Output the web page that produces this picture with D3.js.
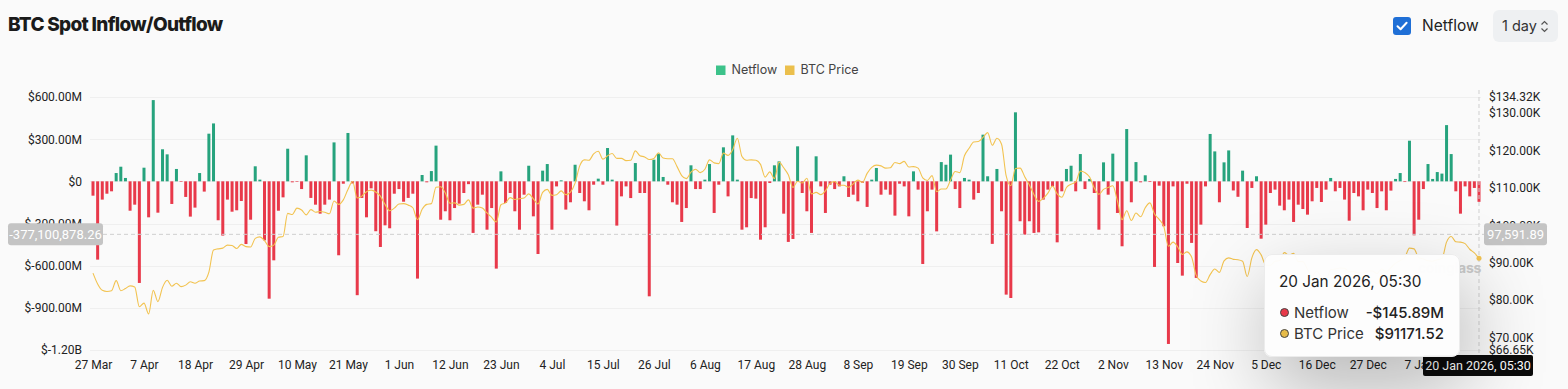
<!DOCTYPE html>
<html>
<head>
<meta charset="utf-8">
<script src="https://cdn.jsdelivr.net/npm/d3@7/dist/d3.min.js"></script>
<style>
  html, body { margin: 0; padding: 0; background: #fafafa; }
  #wrap { position: relative; width: 1568px; height: 389px; overflow: hidden; font-family: Inter, 'Noto Sans', sans-serif; }
  #chart { position: absolute; left: 0; top: 0; }
  .axis text { font-family: Roboto, 'Noto Sans', sans-serif; font-size: 12px; fill: #222; }
  .tooltip {
    position: absolute; left: 1264px; top: 254px; width: 196px; height: 103px;
    box-sizing: border-box; background: rgba(253, 253, 253, 0.97);
    border: 1px solid #ececec; border-radius: 8px;
    box-shadow: 6px 30px 80px rgba(0, 0, 0, 0.28);
    color: #222;
  }
  .tooltip .t-title { position: absolute; left: 14px; top: 17px; font-size: 15.3px; }
  .tooltip .row { position: absolute; left: 14px; right: 15px; font-size: 15px; height: 18px; line-height: 18px; }
  .tooltip .row .dot { position: absolute; left: 1px; top: 4px; width: 9px; height: 9px; border-radius: 50%; border: 1px solid #444; box-sizing: border-box; }
  .tooltip .row .name { position: absolute; left: 15px; color: #333; }
  .tooltip .row .val { position: absolute; right: 0; font-weight: 500; }
  .head-title { position: absolute; left: 8px; top: 13px; font-size: 19px; font-weight: 800; color: #1b1b1b; letter-spacing: -0.7px; }
  .cb { position: absolute; left: 1393px; top: 17px; width: 18px; height: 18px; border-radius: 3px; background: #1f6fd6; }
  .cb-label { position: absolute; left: 1422px; top: 16px; font-size: 15.5px; color: #222; }
  .sel { position: absolute; left: 1493px; top: 10px; width: 65px; height: 32px; border-radius: 6px; background: #eef0f2; box-sizing: border-box; }
  .sel span { position: absolute; left: 9px; top: 7px; font-size: 14.5px; color: #333; }
  .sel svg { position: absolute; left: 47px; top: 10px; }
</style>
</head>
<body>
<div id="wrap">
  <div class="head-title">BTC Spot Inflow/Outflow</div>
  <div class="cb"><svg width="18" height="18"><path d="M4.5 9.2 L7.6 12.2 L13.6 5.8" fill="none" stroke="#fff" stroke-width="2" stroke-linecap="round" stroke-linejoin="round"/></svg></div>
  <div class="cb-label">Netflow</div>
  <div class="sel"><span>1 day</span><svg width="9" height="13"><path d="M1.5 4.5 L4.5 1.5 L7.5 4.5 M1.5 8.5 L4.5 11.5 L7.5 8.5" fill="none" stroke="#555" stroke-width="1.2"/></svg></div>
  <div id="chart"></div>
</div>
<script>
/* Data: one value per day, 27 Mar 2025 .. 20 Jan 2026 */
const startDate = new Date(2025, 2, 27);
const endDate = new Date(2026, 0, 21);

// netflow in $M
const netflow = [
  -102, -557, -130, -88, -71, 59, 104, 24, -209, -166,
  -723, 97, -256, 578, -223, 228, 192, -161, 88, -3,
  -111, -251, -187, 59, -73, 339, 412, -277, -386, -130,
  -216, -206, -140, -446, -273, 107, 12, -420, -835, -562,
  -209, -114, 232, -7, -3, -55, 185, -118, -166, -230,
  -166, -130, 277, -526, -17, 344, -15, -810, -118, -256,
  -50, -355, -467, -313, -334, -88, -55, -145, -118, -88,
  -692, 45, -7, 73, 254, -273, -213, -277, -190, -159,
  -83, -20, -367, -166, -95, -344, -190, -621, 71, -154,
  -83, -213, -344, -95, 111, -249, -517, 76, 123, -344,
  -36, 7, -201, -149, 118, -83, -142, -206, -24, 19,
  -24, 237, 12, -315, -107, -36, -119, 130, -83, -83,
  -818, 154, 197, 31, -24, -149, -166, -289, -190, 114,
  -55, -55, 12, 123, -225, -24, 242, -107, 327, 12,
  -344, -327, -119, -123, -415, -327, -12, 114, 142, -230,
  -431, -410, 249, -83, -213, -367, 178, -36, -225, -24,
  -55, -36, 36, -111, -95, -142, -10, -182, 12, 95,
  -95, -59, -95, -244, -17, -36, -249, 71, -59, -588,
  -213, -59, -356, 137, 118, 190, -55, -190, 24, 12,
  -130, -83, 332, 36, -445, 88, -213, -806, -830, 491,
  -284, -379, -284, -367, -363, -130, -59, -36, -434, -71,
  88, 111, -71, 194, -55, 17, -83, -344, 135, -95,
  197, -225, -462, 372, -149, 137, -7, 43, -5, -609,
  -31, -320, -1157, -36, -581, -671, -17, -438, -687, -308,
  -36, 337, 213, -149, 135, 220, -65, -110, 76, -332,
  -47, 36, -408, -308, -83, -59, -173, -206, -130, -289,
  -166, -197, -237, -142, -47, -147, -59, 24, -71, -47,
  -130, -280, -83, -107, -206, -59, -83, -190, -71, -206,
  -66, 17, 59, -5, 289, -384, -273, -55, 123, 17,
  66, 55, 400, 194, -71, -230, -36, -107, -47, -145.89
];

// BTC price in $K
const btcPrice = [
  87.2, 84.3, 82.6, 82.3, 82.5,
  85.2, 82.5, 83.1, 83.8, 83.5, 78.2, 79.2, 76.3, 82.6, 79.6, 83.4, 85.3, 83.7, 84.5, 83.6,
  84.0, 84.9, 84.5, 85.1, 85.2, 87.5, 93.4, 93.7, 93.9, 94.7, 94.6, 93.8, 94.9, 94.3, 94.2,
  96.5, 96.9, 95.9, 94.3, 94.7, 96.8, 97.0, 103.2, 102.9, 104.6, 104.1, 102.8, 104.2, 103.5, 103.7,
  103.5, 103.1, 106.5, 105.6, 106.8, 109.6, 111.7, 107.3, 107.8, 109.0, 109.4, 108.9, 107.8, 105.6, 103.9, 104.6,
  105.7, 105.8, 105.4, 104.7, 101.5, 104.3, 105.6, 105.8, 110.2, 110.3, 108.7, 105.9, 106.0, 105.4, 105.6,
  106.8, 104.6, 104.9, 104.6, 103.3, 102.1, 100.9, 105.5, 106.0, 107.4, 106.9, 107.1, 107.3, 108.4, 107.1,
  105.7, 108.8, 109.6, 108.0, 108.2, 109.2, 108.2, 108.9, 111.3, 115.9, 117.5, 117.4, 119.1, 119.8, 117.7,
  118.6, 119.2, 117.9, 117.9, 117.3, 117.4, 119.9, 118.6, 118.3, 117.6, 117.9, 119.4, 118.0, 117.8, 117.8, 115.7,
  113.3, 112.5, 114.2, 115.0, 114.1, 115.0, 117.5, 116.7, 116.5, 119.3, 118.7, 120.2, 123.3, 118.4, 117.4,
  117.5, 117.4, 116.3, 112.9, 114.3, 112.5, 116.9, 115.4, 113.5, 110.1, 111.8, 111.3, 112.6, 108.4, 108.8, 108.2,
  109.2, 111.2, 111.7, 110.7, 110.7, 110.2, 111.1, 112.1, 111.5, 113.9, 115.5, 116.1, 115.9, 115.3, 115.4,
  116.8, 116.5, 117.1, 115.6, 115.7, 115.3, 112.7, 112.0, 113.3, 109.0, 109.7, 109.7, 112.1, 114.4, 114.1,
  118.6, 120.6, 122.3, 122.4, 123.5, 124.8, 121.4, 123.3, 121.7, 113.2, 110.6, 115.2, 115.3, 113.0, 110.8,
  108.2, 106.4, 107.2, 108.6, 110.5, 108.4, 107.5, 110.1, 111.0, 111.6, 114.5, 114.1, 112.9, 110.0, 108.3, 109.6,
  110.1, 110.6, 106.5, 101.5, 103.9, 101.3, 103.3, 102.3, 104.7, 106.0, 103.0, 101.6, 99.7, 94.4, 95.5,
  94.2, 92.2, 92.9, 91.5, 86.6, 85.1, 84.7, 86.8, 88.3, 87.4, 90.5, 91.3, 90.9, 90.8, 90.4,
  86.3, 91.3, 93.5, 92.1, 89.4, 89.3, 90.4, 90.6, 92.7, 92.0, 92.5, 90.3, 90.3, 88.2, 86.4,
  87.8, 86.1, 85.5, 88.1, 88.3, 88.6, 88.5, 87.6, 87.6, 87.2, 87.3, 87.8, 87.8, 87.1, 88.4, 87.5,
  88.7, 89.9, 90.6, 91.4, 93.9, 93.7, 91.3, 91.0, 90.5, 90.4, 90.8, 91.1, 95.5, 97.0, 95.6,
  95.5, 95.1, 93.6, 92.6, 91.17
];

const xTickLabels = ['27 Mar', '7 Apr', '18 Apr', '29 Apr', '10 May', '21 May', '1 Jun', '12 Jun', '23 Jun',
  '4 Jul', '15 Jul', '26 Jul', '6 Aug', '17 Aug', '28 Aug', '8 Sep', '19 Sep', '30 Sep', '11 Oct',
  '22 Oct', '2 Nov', '13 Nov', '24 Nov', '5 Dec', '16 Dec', '27 Dec', '7 Jan'];
const leftTicks = [600, 300, 0, -300, -600, -900, -1200];
const leftTickLabels = ['$600.00M', '$300.00M', '$0', '$-300.00M', '$-600.00M', '$-900.00M', '$-1.20B'];
const rightTicks = [134.32, 130, 120, 110, 100, 90, 80, 70, 66.65];
const rightTickLabels = ['$134.32K', '$130.00K', '$120.00K', '$110.00K', '$100.00K', '$90.00K', '$80.00K', '$70.00K', '$66.65K'];

const hover = { date: '20 Jan 2026, 05:30', flow: '-$145.89M', price: '$91171.52', yLabel: '-377,100,878.26', yValue: -377.1, rLabel: '97,591.89' };

const green = '#26a37d';
const red = '#e8394a';
const gold = '#f2c350';

const width = 1568;
const height = 389;
const plotTop = 97;
const plotBottom = 350;

const dates = d3.timeDay.range(startDate, endDate);
const fmtTick = d3.timeFormat('%-d %b');
const data = dates.map((d, i) => ({ date: d, flow: netflow[i], price: btcPrice[i] }));

/* Scales */
const x = d3.scalePoint().domain(dates).range([93, 1479]);
const yL = d3.scaleLinear().domain([-1200, 600]).range([plotBottom, plotTop]);
const yR = d3.scaleLinear().domain([66.65, 134.32]).range([plotBottom, plotTop]);

const svg = d3.select('#chart').append('svg')
  .attr('width', width)
  .attr('height', height);

/* Grid */
svg.append('g')
  .selectAll('line')
  .data(leftTicks).enter()
  .append('line')
  .attr('x1', 90).attr('x2', 1481)
  .attr('y1', d => Math.round(yL(d)) + 0.5)
  .attr('y2', d => Math.round(yL(d)) + 0.5)
  .attr('stroke', '#efefef');

/* Legend */
const legend = svg.append('g').attr('transform', 'translate(716, 70)');
[['Netflow', '#3cc28a'], ['BTC Price', '#ebbf4c']].forEach((item, i) => {
  const g = legend.append('g').attr('transform', `translate(${i * 69}, 0)`);
  g.append('rect').attr('x', 0).attr('y', -4.5).attr('width', 9.5).attr('height', 9.5).attr('fill', item[1]);
  g.append('text').attr('x', 15.5).attr('dy', '0.35em')
    .style('font-size', '12.5px').style('fill', '#444').text(item[0]);
});

/* Bars */
const barW = 3;
svg.append('g')
  .selectAll('rect')
  .data(data).enter()
  .append('rect')
  .attr('x', d => x(d.date) - barW / 2)
  .attr('y', d => Math.min(yL(d.flow), yL(0)))
  .attr('width', barW)
  .attr('height', d => Math.max(0.6, Math.abs(yL(d.flow) - yL(0))))
  .attr('fill', d => d.flow >= 0 ? green : red);

/* Watermark */
svg.append('text')
  .attr('x', 1481).attr('y', 273)
  .attr('text-anchor', 'end')
  .style('font-size', '14px').style('font-weight', 700)
  .style('letter-spacing', '-0.3px')
  .style('fill', '#cacaca')
  .text('coinglass');

/* Price line */
const line = d3.line()
  .x(d => x(d.date))
  .y(d => yR(d.price))
  .curve(d3.curveMonotoneX);

svg.append('path')
  .datum(data)
  .attr('d', line)
  .attr('fill', 'none')
  .attr('stroke', gold)
  .attr('stroke-width', 1.1);

/* Axes */
const axisL = d3.axisLeft(yL).tickValues(leftTicks).tickFormat((d, i) => leftTickLabels[i]).tickSize(0).tickPadding(3);
svg.append('g').attr('class', 'axis').attr('transform', 'translate(85, 0)').call(axisL)
  .call(g => g.select('.domain').remove());

const axisR = d3.axisRight(yR).tickValues(rightTicks).tickFormat((d, i) => rightTickLabels[i]).tickSize(0).tickPadding(3);
svg.append('g').attr('class', 'axis').attr('transform', 'translate(1486, 0)').call(axisR)
  .call(g => g.select('.domain').remove());

const tickDates = dates.filter(d => xTickLabels.includes(fmtTick(d)));
const axisB = d3.axisBottom(x).tickValues(tickDates).tickFormat(fmtTick).tickSize(0).tickPadding(3);
svg.append('g').attr('class', 'axis').attr('transform', 'translate(0, 357)').call(axisB)
  .call(g => g.select('.domain').remove());

/* Crosshair */
const last = data[data.length - 1];
const hx = x(last.date);
const hy = yL(hover.yValue);
svg.append('line')
  .attr('x1', 103).attr('x2', 1484).attr('y1', hy).attr('y2', hy)
  .attr('stroke', '#cfcfcf').attr('stroke-dasharray', '4,3');
svg.append('line')
  .attr('x1', hx).attr('x2', hx).attr('y1', 90).attr('y2', 356)
  .attr('stroke', '#cfcfcf').attr('stroke-dasharray', '4,3');
svg.append('circle')
  .attr('cx', hx).attr('cy', yR(last.price)).attr('r', 2.5)
  .attr('fill', gold);

function badge(x0, w, label, bg) {
  const g = svg.append('g');
  g.append('rect').attr('x', x0).attr('y', hy - 11).attr('width', w).attr('height', 22)
    .attr('rx', 3).attr('fill', bg);
  g.append('text').attr('x', x0 + w / 2).attr('y', hy).attr('dy', '0.35em')
    .attr('text-anchor', 'middle')
    .style('font-family', 'Roboto, sans-serif').style('font-size', '13px').style('fill', '#fff')
    .text(label);
}
badge(8, 95, hover.yLabel, '#c4c4c4');
badge(1484, 63, hover.rLabel, '#c4c4c4');

const dateBox = svg.append('g');
dateBox.append('rect').attr('x', 1423).attr('y', 355).attr('width', 110).attr('height', 21).attr('rx', 2).attr('fill', '#0b0b0b');
dateBox.append('text').attr('x', 1478).attr('y', 365.5).attr('dy', '0.35em').attr('text-anchor', 'middle')
  .style('font-family', 'Roboto, sans-serif').style('font-size', '12.5px').style('fill', '#fff')
  .text(hover.date);

/* Tooltip */
const tip = d3.select('#wrap').append('div').attr('class', 'tooltip');
tip.append('div').attr('class', 't-title').text(hover.date);
[[red, 'Netflow', hover.flow, 49], ['#e6bb48', 'BTC Price', hover.price, 70]].forEach(r => {
  const row = tip.append('div').attr('class', 'row').style('top', r[3] + 'px');
  row.append('span').attr('class', 'dot').style('background', r[0]);
  row.append('span').attr('class', 'name').text(r[1]);
  row.append('span').attr('class', 'val').text(r[2]);
});
</script>
</body>
</html>
